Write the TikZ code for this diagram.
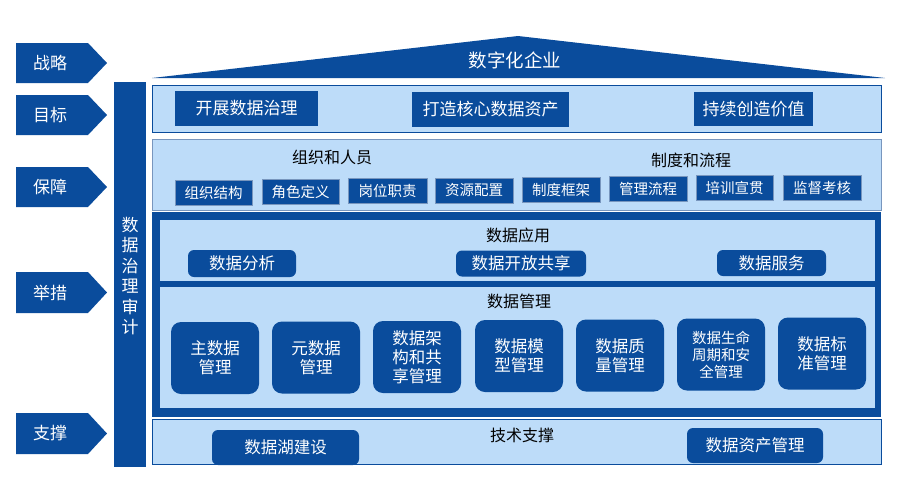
\documentclass[tikz,border=0pt]{standalone}
\usepackage{fontspec}
\setmainfont{Noto Sans CJK SC}
\begin{document}
\begin{tikzpicture}[x=1pt,y=-1pt,
  every node/.style={inner sep=0pt,align=center},
  panel/.style={fill=ltblue,draw=dkblue,line width=0.8pt},
  gpanel/.style={fill=ltblue,draw=gborder,line width=0.8pt},
  goalbox/.style={fill=dkblue,text=white,font=\fontsize{17}{19}\selectfont},
  smallbox/.style={fill=dkblue,draw=gborder,line width=0.5pt,text=white,font=\fontsize{14.5}{16}\selectfont},
  rbox/.style={fill=dkblue,rounded corners=6pt,text=white,font=\fontsize{16.5}{18}\selectfont},
  mbox/.style={fill=dkblue,rounded corners=10pt,text=white,font=\fontsize{16.5}{19}\selectfont},
  ttl/.style={text=black,font=\fontsize{16}{18}\selectfont},
  lbl/.style={text=white,font=\fontsize{17}{19}\selectfont}]
\definecolor{dkblue}{RGB}{10,76,156}
\definecolor{ltblue}{RGB}{189,220,249}
\definecolor{gborder}{RGB}{120,150,190}
\useasboundingbox (0,0) rectangle (906,483);
\fill[white] (0,0) rectangle (906,483);

% left chevrons
\foreach \n/\t/\b/\txt in {a/43/83/战略, b/95/135/目标, c/167/207/保障, d/272/313/举措, e/413/454/支撑}{
  \fill[dkblue] (16,\t) -- (88,\t) -- (107,{(\t+\b)/2}) -- (88,\b) -- (16,\b) -- cycle;
  \node[lbl] (\n) at (50,{(\t+\b)/2}) {\txt};
}

% vertical audit bar
\fill[dkblue] (114,82) rectangle (146,467);
\node[lbl,font=\fontsize{17}{20.5}\selectfont] (audit) at (130,276) {数\\据\\治\\理\\审\\计};

% roof
\fill[dkblue] (152,78) -- (518,36) -- (885,78) -- cycle;
\node[text=white,font=\fontsize{18.5}{20}\selectfont] (roof) at (515,60) {数字化企业};

% goals
\draw[panel] (152,85) rectangle (881,132);
\node[goalbox,minimum width=143pt,minimum height=35pt] (g1) at (246.5,108.5) {开展数据治理};
\node[goalbox,minimum width=157pt,minimum height=35pt] (g2) at (490.5,109) {打造核心数据资产};
\node[goalbox,minimum width=119pt,minimum height=34pt] (g3) at (753.5,109) {持续创造价值};

% guarantee
\draw[gpanel] (152,139) rectangle (881,210);
\node[ttl] (org) at (332,157) {组织和人员};
\node[ttl] (sys) at (691,160) {制度和流程};
\foreach \n/\l/\r/\c/\txt in {s1/175/252/192.5/组织结构, s2/262/339/191.5/角色定义, s3/348/427/191/岗位职责, s4/435/513/190.5/资源配置, s5/522/600/189.5/制度框架, s6/609/687/189/管理流程, s7/696/773/188/培训宣贯, s8/783/861/187.5/监督考核}{
  \node[smallbox,minimum width={\r-\l},minimum height=25pt] (\n) at ({(\l+\r)/2},\c) {\txt};
}

% measures frame
\fill[dkblue] (152,212) rectangle (881,417);
\fill[ltblue] (160,220) rectangle (875,281);
\fill[ltblue] (160,287) rectangle (875,408);
\node[ttl] (app) at (518,235) {数据应用};
\node[rbox,minimum width=108pt,minimum height=27pt] (a1) at (242,263.5) {数据分析};
\node[rbox,minimum width=130pt,minimum height=26pt] (a2) at (521,263.5) {数据开放共享};
\node[rbox,minimum width=109pt,minimum height=26pt] (a3) at (771.5,263) {数据服务};

\node[ttl] (mgmt) at (519,301) {数据管理};
\foreach \n/\l/\c/\txt in {m1/171/358/主数据\\管理, m2/272/357.5/元数据\\管理, m3/373/357/数据架\\构和共\\享管理, m4/475/356/数据模\\型管理, m5/576/355.5/数据质\\量管理, m7/778/353.5/数据标\\准管理}{
  \node[mbox,minimum width=88pt,minimum height=72pt] (\n) at ({\l+44},\c) {\txt};
}
\node[mbox,minimum width=88pt,minimum height=72pt,font=\fontsize{14.5}{17}\selectfont] (m6) at (721,354.5) {数据生命\\周期和安\\全管理};

% support
\draw[panel] (152,419) rectangle (881,464);
\node[ttl] (tech) at (522,435) {技术支撑};
\node[rbox,minimum width=147pt,minimum height=35pt] (t1) at (285.5,447.5) {数据湖建设};
\node[rbox,minimum width=136pt,minimum height=35pt] (t2) at (755,445.5) {数据资产管理};
\end{tikzpicture}
\end{document}
